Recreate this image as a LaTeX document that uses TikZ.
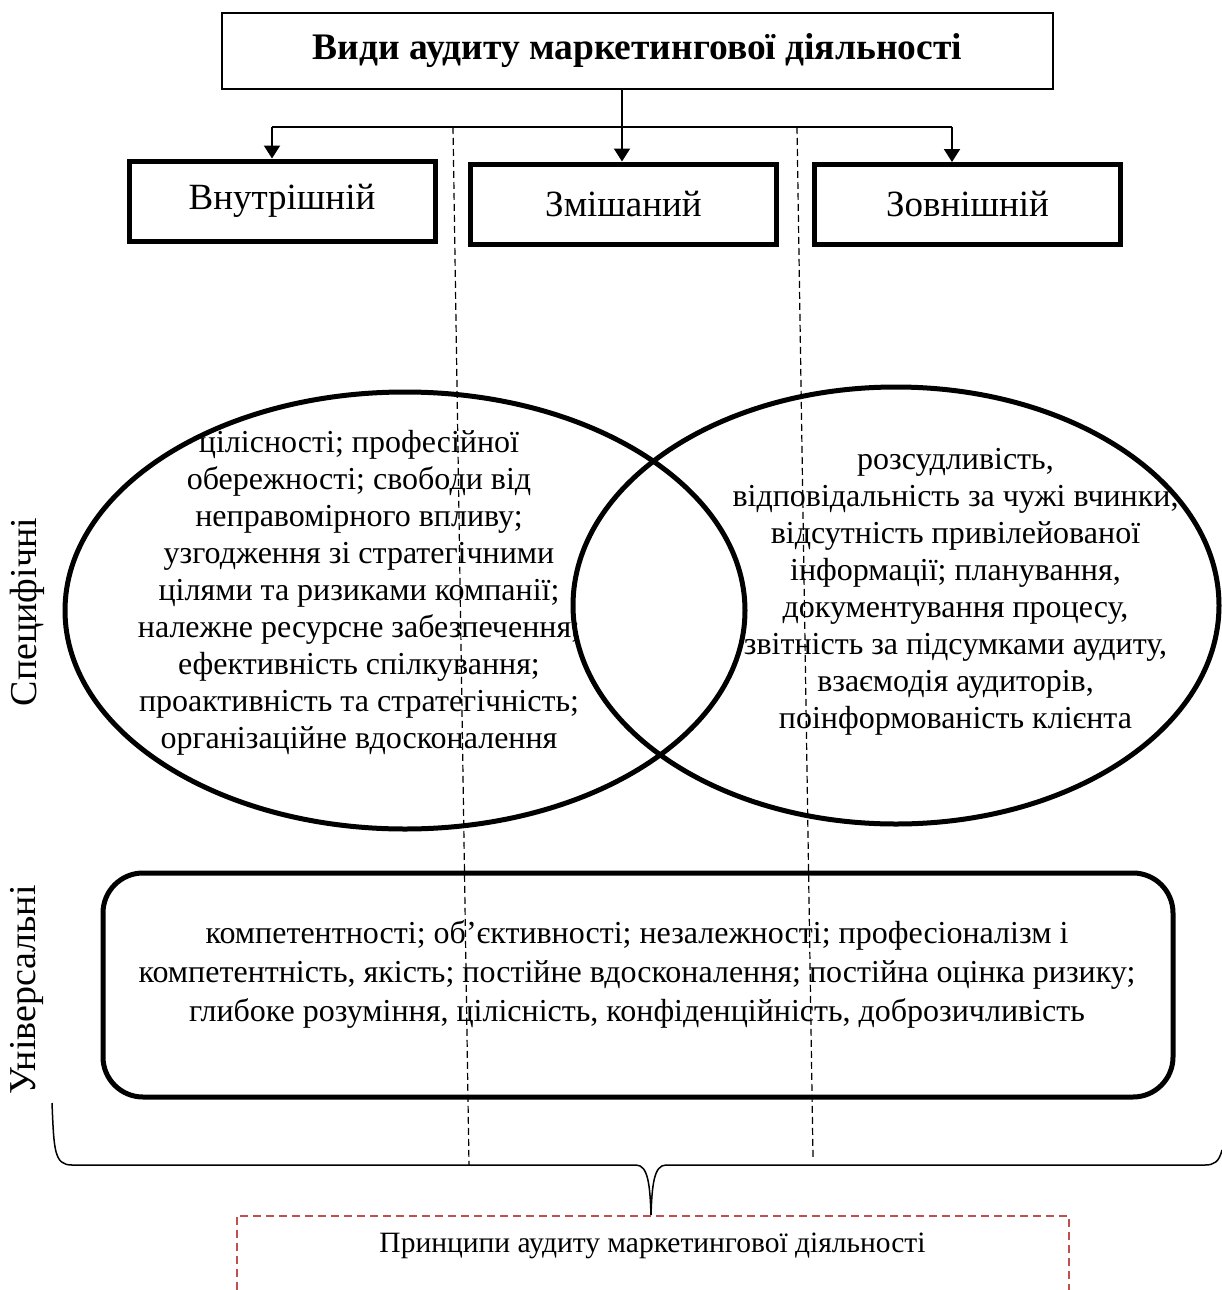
\documentclass[tikz,border=0pt]{standalone}
\usepackage{fontspec}
\setmainfont{Liberation Serif}
\usetikzlibrary{shapes.geometric,arrows.meta}
\definecolor{redline}{RGB}{192,80,77}
\begin{document}
\begin{tikzpicture}[x=1pt,y=-1pt,
  typebox/.style={draw,line width=5pt,minimum width=306,minimum height=80,inner sep=0,font=\fontsize{37}{42}\selectfont},
  arr/.style={line width=2pt,-{Triangle[length=13pt,width=16pt]}},
  oval/.style={draw,ellipse,line width=5pt,inner sep=0},
  bodytext/.style={align=center,font=\fontsize{32}{37}\selectfont},
  divider/.style={line width=1.2pt,dash pattern=on 7pt off 4pt},
  sidelabel/.style={rotate=90,font=\fontsize{38}{42}\selectfont}]
\useasboundingbox (0,0) rectangle (1222,1290);
% title
\node[draw,line width=1.2pt,minimum width=831,minimum height=76,inner sep=0,
  font=\bfseries\fontsize{37.5}{42}\selectfont] (title) at (637.5,51) {Види аудиту маркетингової діяльності};
% type boxes
\node[typebox] (internal) at (282,201) {Внутрішній};
\node[typebox] (mixed) at (623.5,204) {Змішаний};
\node[typebox] (external) at (967.5,204.5) {Зовнішній};
\coordinate (split) at (622,127);
\coordinate (leftend) at (272,127);
\coordinate (rightend) at (952,127);
\draw[line width=2pt] (title.south -| split) -- (split);
\draw[line width=2pt] (leftend) -- (rightend);
\draw[arr] (leftend) -- (internal.north -| leftend);
\draw[arr] (split) -- (mixed.north -| split);
\draw[arr] (rightend) -- (external.north -| rightend);
% dividers
\coordinate (d1top) at (453,127);
\coordinate (d1bot) at (469,1165);
\coordinate (d2top) at (797,127);
\coordinate (d2bot) at (813,1157);
\draw[divider] (d1top) -- (d1bot);
\draw[divider] (d2top) -- (d2bot);
% ellipses
\node[oval,minimum width=680,minimum height=437] (leftoval) at (405,610.5) {};
\node[oval,minimum width=646,minimum height=437] (rightoval) at (896,605.5) {};
\node[bodytext] (lefttext) at (359,593) {цілісності; професійної\\обережності; свободи від\\неправомірного впливу;\\узгодження зі стратегічними\\цілями та ризиками компанії;\\належне ресурсне забезпечення;\\ефективність спілкування;\\проактивність та стратегічність;\\організаційне вдосконалення};
\node[bodytext] (righttext) at (955.5,592) {розсудливість,\\відповідальність за чужі вчинки,\\відсутність привілейованої\\інформації; планування,\\документування процесу,\\звітність за підсумками аудиту,\\взаємодія аудиторів,\\поінформованість клієнта};
% universal box
\node[draw,rounded corners=40pt,line width=5pt,minimum width=1070,minimum height=224,inner sep=0] (univ) at (638,985) {};
\node[align=center,font=\fontsize{32}{39}\selectfont] (univtext) at (637,974) {компетентності; об’єктивності; незалежності; професіоналізм і\\компетентність, якість; постійне вдосконалення; постійна оцінка ризику;\\глибоке розуміння, цілісність, конфіденційність, доброзичливість};
% side labels
\node[sidelabel] (spec) at (27,612) {Специфічні};
\node[sidelabel] (univlabel) at (27,990) {Універсальні};
% brace
\coordinate (bl) at (52,1103);
\coordinate (btip) at (651,1215);
\coordinate (br) at (1222,1150);
\draw[line width=1.5pt] (bl) .. controls (54,1150) and (54,1165) .. (72,1165) -- (636,1165)
  .. controls (648,1165) and (650,1185) .. (btip)
  .. controls (652,1185) and (654,1165) .. (666,1165) -- (1205,1165)
  .. controls (1214,1165) and (1219,1162) .. (br);
% principles
\node[minimum width=832,minimum height=74,inner sep=0] (principles) at (653,1253) {};
\node[font=\fontsize{29.5}{34}\selectfont] (principlestext) at (652.5,1246) {Принципи аудиту маркетингової діяльності};
\draw[redline,line width=1.5pt,dash pattern=on 8pt off 5pt] (principles.south west) -- (principles.north west) -- (principles.north east) -- (principles.south east);
\end{tikzpicture}
\end{document}
